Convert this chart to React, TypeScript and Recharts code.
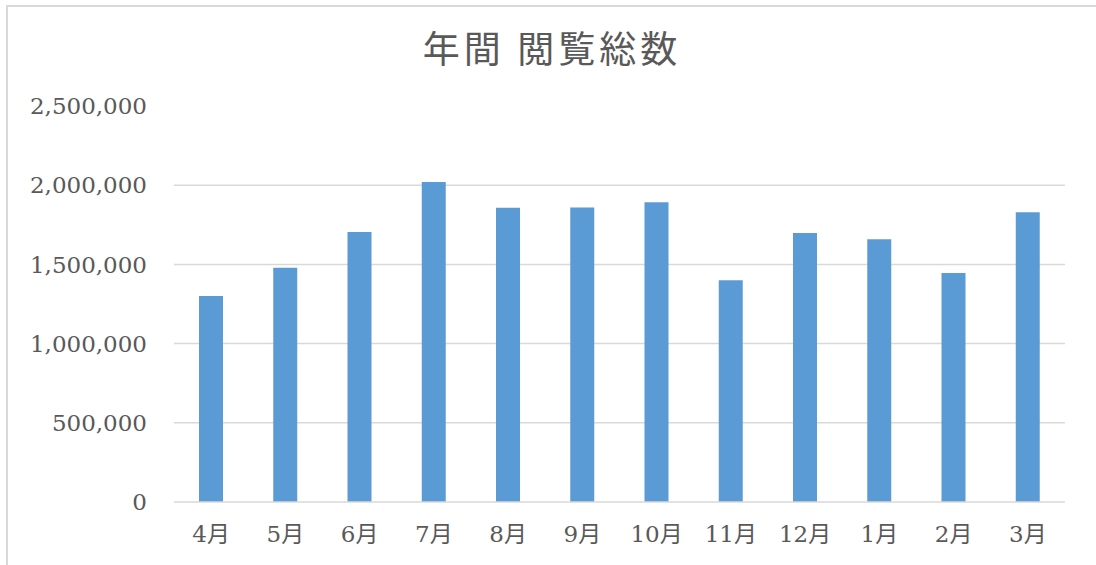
import { BarChart, Bar, XAxis, YAxis, CartesianGrid } from 'recharts';

const months = ['4月', '5月', '6月', '7月', '8月', '9月', '10月', '11月', '12月', '1月', '2月', '3月'];
const views = [1300000, 1479000, 1705000, 2020000, 1858000, 1860000, 1892000, 1400000, 1698000, 1658000, 1446000, 1829000];
const yTicks = [0, 500000, 1000000, 1500000, 2000000, 2500000];
const gridValues = [500000, 1000000, 1500000, 2000000];

const data = months.map((month, i) => ({ month, views: views[i] }));

const tickStyle = { fontSize: 23, fill: '#595959', fontFamily: '"DejaVu Serif", "Noto Sans CJK JP", serif' };

export default function App() {
  return (
    <div style={{ position: 'absolute', left: 0, top: 0, width: 1096, height: 565, background: '#fff', overflow: 'hidden' }}>
      {/* chart frame: only top and left edges show in the crop */}
      <div
        style={{
          position: 'absolute',
          left: 6,
          top: 5,
          width: 1100,
          height: 580,
          borderTop: '2px solid #d9d9d9',
          borderLeft: '2px solid #d9d9d9',
          boxSizing: 'border-box',
        }}
      />
      <div
        style={{
          position: 'absolute',
          left: 0,
          width: 1104,
          top: 23,
          textAlign: 'center',
          fontSize: 37,
          letterSpacing: 4,
          color: '#595959',
          fontFamily: '"Noto Sans CJK JP", sans-serif',
          lineHeight: '48px',
        }}
      >
        年間 閲覧総数
      </div>
      <div style={{ position: 'absolute', left: 0, top: 0 }}>
        <BarChart width={1096} height={565} data={data} margin={{ top: 106, right: 31, bottom: 0, left: 24 }}>
          <CartesianGrid vertical={false} horizontalValues={gridValues} stroke="#d9d9d9" strokeWidth={1.5} />
          <XAxis
            dataKey="month"
            height={63}
            axisLine={{ stroke: '#d9d9d9', strokeWidth: 1.5 }}
            tickLine={false}
            tickSize={0}
            tickMargin={24}
            tick={tickStyle}
            interval={0}
          />
          <YAxis
            width={150}
            domain={[0, 2500000]}
            ticks={yTicks}
            axisLine={false}
            tickLine={false}
            tickSize={0}
            tickMargin={27}
            tick={tickStyle}
            tickFormatter={(v: number) => v.toLocaleString('en-US')}
          />
          <Bar dataKey="views" fill="#5b9bd5" barSize={24} isAnimationActive={false} />
        </BarChart>
      </div>
    </div>
  );
}
